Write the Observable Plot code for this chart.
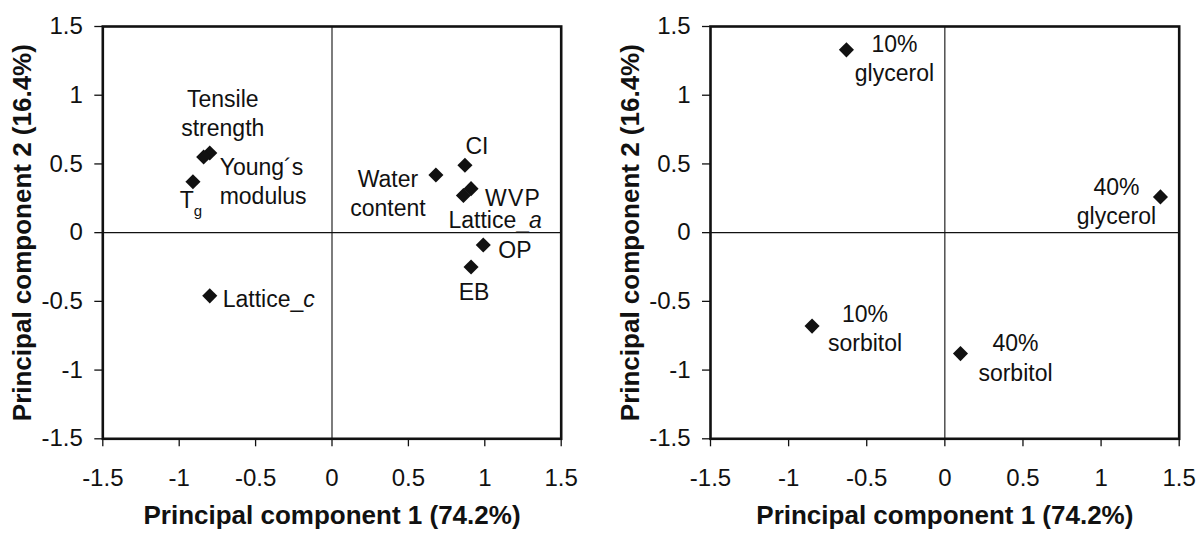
<!DOCTYPE html>
<html><head><meta charset="utf-8">
<script src="https://cdn.jsdelivr.net/npm/d3@7"></script>
<script src="https://cdn.jsdelivr.net/npm/@observablehq/plot@0.6"></script>
<style>
html,body{margin:0;padding:0;background:#fff;}
#wrap{display:flex;width:1199px;height:534px;overflow:hidden;}
</style></head><body><div id="wrap"></div>
<script>
// ---- data ----
const axisTicks = [-1.5, -1, -0.5, 0, 0.5, 1, 1.5];
const axisTickLabels = ["-1.5", "-1", "-0.5", "0", "0.5", "1", "1.5"];
const xTitle = "Principal component 1 (74.2%)";
const yTitle = "Principal component 2 (16.4%)";

const variables = ["Tensile strength", "Young´s modulus", "Tg", "Lattice_c", "Water content", "CI", "WVP", "Lattice_a", "OP", "EB"];
const variablePC1 = [-0.80, -0.84, -0.91, -0.80, 0.68, 0.87, 0.91, 0.86, 0.99, 0.91];
const variablePC2 = [0.58, 0.55, 0.37, -0.46, 0.42, 0.49, 0.32, 0.27, -0.09, -0.25];

const samples = ["10% glycerol", "40% glycerol", "10% sorbitol", "40% sorbitol"];
const samplePC1 = [-0.63, 1.38, -0.85, 0.10];
const samplePC2 = [1.33, 0.26, -0.68, -0.88];

// ---- label placement (offsets in px from each point) ----
const variableLabelLayout = {
  "Tensile strength": {text: "Tensile\nstrength", anchor: "middle", dx: 13, dy: -41},
  "Young´s modulus": {text: "Young´s\nmodulus", anchor: "start", dx: 16, dy: 23},
  "Tg": {text: "Tg", anchor: "middle", dx: -2, dy: 17},
  "Lattice_c": {text: "Lattice_c", anchor: "start", dx: 13, dy: 2},
  "Water content": {text: "Water\ncontent", anchor: "middle", dx: -48, dy: 17},
  "CI": {text: "CI", anchor: "middle", dx: 12, dy: -21},
  "WVP": {text: "WVP", anchor: "start", dx: 14, dy: 8},
  "Lattice_a": {text: "Lattice_a", anchor: "start", dx: -15, dy: 23},
  "OP": {text: "OP", anchor: "start", dx: 15, dy: 4},
  "EB": {text: "EB", anchor: "middle", dx: 3, dy: 24}
};
const sampleLabelLayout = {
  "10% glycerol": {text: "10%\nglycerol", anchor: "middle", dx: 48, dy: 7},
  "40% glycerol": {text: "40%\nglycerol", anchor: "middle", dx: -44, dy: 3},
  "10% sorbitol": {text: "10%\nsorbitol", anchor: "middle", dx: 53, dy: 1},
  "40% sorbitol": {text: "40%\nsorbitol", anchor: "middle", dx: 55, dy: 3}
};

const INK = "#111";
const FONT = "'Liberation Sans', Arial, Helvetica, sans-serif";

function panel(names, pc1, pc2, layout, opts) {
  const rows = names.map((n, i) => ({name: n, x: pc1[i], y: pc2[i]}));
  const labelMarks = rows.map(r => {
    const L = layout[r.name];
    return Plot.text([r], {x: "x", y: "y", text: () => L.text, textAnchor: L.anchor,
      dx: L.dx, dy: L.dy, fontSize: 23, lineHeight: 1.28, lineAnchor: "middle", fill: INK});
  });
  const fmt = d => axisTickLabels[axisTicks.indexOf(d)];
  return Plot.plot({
    width: opts.width, height: 534,
    marginLeft: opts.marginLeft, marginRight: opts.marginRight,
    marginTop: 26, marginBottom: 95.7,
    style: {fontFamily: FONT, fontSize: "23px", color: INK, background: "white", overflow: "visible"},
    x: {domain: [-1.5, 1.5]},
    y: {domain: [-1.5, 1.5]},
    marks: [
      Plot.ruleX([0], {stroke: INK, strokeWidth: 1.1}),
      Plot.ruleY([0], {stroke: INK, strokeWidth: 1.1}),
      Plot.frame({stroke: INK, strokeWidth: 2.6}),
      Plot.axisX(axisTicks, {tickFormat: fmt, tickSize: 8, tickPadding: 22, fontSize: 24, label: null, stroke: INK, strokeWidth: 1.3}),
      Plot.axisY(axisTicks, {tickFormat: fmt, tickSize: 8, tickPadding: 12, fontSize: 24, label: null, stroke: INK, strokeWidth: 1.3}),
      Plot.dot(rows, {x: "x", y: "y", symbol: "diamond2", r: 6.8, fill: INK, stroke: "none"}),
      ...labelMarks,
      Plot.text([xTitle], {frameAnchor: "bottom", dy: 77, text: d => d, fontSize: 26, fontWeight: "bold", lineAnchor: "middle", fill: INK}),
      Plot.text([yTitle], {frameAnchor: "left", dx: -80, text: d => d, rotate: -90, fontSize: 26, fontWeight: "bold", lineAnchor: "middle", textAnchor: "middle", fill: INK})
    ]
  });
}

function decorate(svg) {
  svg.querySelectorAll("text").forEach(el => {
    if (el.children.length) return;
    const t = el.textContent;
    const m = /^Lattice_([ac])$/.exec(t);
    if (m) {
      el.textContent = "Lattice_";
      const ts = document.createElementNS("http://www.w3.org/2000/svg", "tspan");
      ts.setAttribute("font-style", "italic");
      ts.textContent = m[1];
      el.appendChild(ts);
    } else if (t === "Tg") {
      el.textContent = "T";
      const ts = document.createElementNS("http://www.w3.org/2000/svg", "tspan");
      ts.setAttribute("font-size", "15");
      ts.setAttribute("dy", "8");
      ts.textContent = "g";
      el.appendChild(ts);
    } else if (t === "WVP") {
      el.setAttribute("letter-spacing", "1.2");
    }
  });
  return svg;
}

const wrap = document.getElementById("wrap");
wrap.appendChild(decorate(panel(variables, variablePC1, variablePC2, variableLabelLayout,
  {width: 600, marginLeft: 102.3, marginRight: 39.3})));
wrap.appendChild(decorate(panel(samples, samplePC1, samplePC2, sampleLabelLayout,
  {width: 599, marginLeft: 110, marginRight: 20.3})));
</script>
</body></html>
